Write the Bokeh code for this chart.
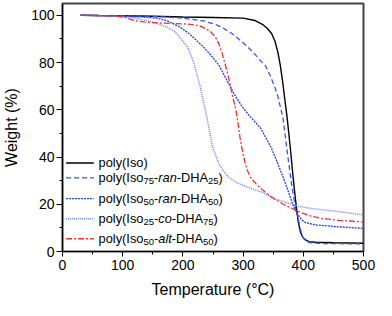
from bokeh.plotting import figure
from bokeh.models import Range1d, SingleIntervalTicker, Label, Arrow
from bokeh.embed import file_html
from bokeh.resources import INLINE

# ---------------- data ----------------
t_iso = [30, 60, 100, 150, 200, 250, 300, 320, 332, 340, 347.5, 353, 358, 362, 365.6, 369, 373, 378,
         383.5, 387, 391.4, 395, 398.7, 403, 409.5, 420, 450, 500]
w_iso = [100, 99.9, 99.8, 99.6, 99.3, 99.1, 98.8, 97.8, 96.2, 94.5, 92.2, 89, 84.1, 78.5, 72, 65, 57, 45,
         30.4, 22, 12.9, 8.5, 6.2, 5, 4.2, 3.9, 3.7, 3.5]

t_r75 = [30, 60, 100, 130, 170, 200, 234, 250, 265, 283, 301, 315, 329, 337, 345, 353, 358, 363, 366,
         370, 376, 380, 383.5, 387, 391.4, 395, 399, 405, 412, 430, 500]
w_r75 = [100, 99.9, 99.8, 99.6, 99.3, 98.8, 97.6, 96.5, 94.9, 92, 88.2, 84.8, 80.8, 78.7, 74.5, 69.4,
         65.5, 60, 57, 49, 37, 29.5, 23.7, 18.5, 14.2, 9.5, 6.2, 4.3, 3.7, 3.4, 3.2]

t_r50 = [30, 60, 100, 130, 155, 170, 182, 195, 208, 220, 234, 247, 260, 272, 285, 298, 311, 329, 347,
         358, 368, 375, 381, 386, 391, 397, 404, 420, 450, 500]
w_r50 = [100, 99.9, 99.7, 99.3, 98.8, 98, 96.8, 95, 92.7, 90, 86.6, 83, 78.8, 73, 66.7, 61.5, 57.3,
         52.3, 43.8, 37, 30.4, 25.5, 21, 18, 15.6, 13.5, 12.2, 11.3, 10.6, 9.8]

t_co = [30, 60, 100, 120, 140, 160, 175, 187, 197, 208, 218, 228, 239, 249, 260, 268, 275, 285, 296,
        315, 332, 353, 375, 394, 420, 456, 500]
w_co = [100, 99.9, 99.5, 98.8, 97.8, 96.3, 94.8, 93, 90, 86.5, 80, 70.5, 58, 44.5, 37, 34, 31.7, 29.8,
        28.4, 26.5, 25, 22.3, 20.5, 19, 18, 17, 15.5]

t_alt = [30, 60, 90, 105, 119, 135, 146, 165, 182, 200, 213, 228, 239, 247, 254, 260, 265, 270, 275,
         279, 283, 287, 290, 295, 300, 306, 312, 322, 335, 353, 370, 391, 410, 430, 460, 500]
w_alt = [100, 99.9, 99.6, 99, 97.8, 97.2, 96.9, 96.7, 96.5, 96.4, 96.2, 95.5, 94.2, 92.8, 90.8, 87.8,
         84, 79.5, 74.7, 70, 65.3, 61, 57, 48, 41, 35, 31.5, 28.5, 25.5, 22, 19.6, 17, 15.2, 14, 13.2, 12.5]

x_label = "Temperature (°C)"
y_label = "Weight (%)"

# legend texts: (text, style) n = normal, s = subscript, i = italic
legend_parts = [
    [("poly(Iso)", "n")],
    [("poly(Iso", "n"), ("75", "s"), ("-", "n"), ("ran", "i"), ("-DHA", "n"), ("25", "s"), (")", "n")],
    [("poly(Iso", "n"), ("50", "s"), ("-", "n"), ("ran", "i"), ("-DHA", "n"), ("50", "s"), (")", "n")],
    [("poly(Iso", "n"), ("25", "s"), ("-", "n"), ("co", "i"), ("-DHA", "n"), ("75", "s"), (")", "n")],
    [("poly(Iso", "n"), ("50", "s"), ("-", "n"), ("alt", "i"), ("-DHA", "n"), ("50", "s"), (")", "n")],
]

series = [
    (t_iso, w_iso, "#000000", None, 1.4),
    (t_r75, w_r75, "#3355ff", "5 3", 1.3),
    (t_r50, w_r50, "#1f3cf0", "2 1", 1.3),
    (t_co, w_co, "#6f84ff", "1 1", 1.5),
    (t_alt, w_alt, "#ff2b2b", "6 2 2 2", 1.3),
]

FONT = "Liberation Sans"

p = figure(width=376, height=300, output_backend="svg", toolbar_location=None,
           x_range=Range1d(0, 500), y_range=Range1d(0, 105),
           min_border_left=50, min_border_right=13, min_border_top=3, min_border_bottom=46)
p.background_fill_color = "white"
p.border_fill_color = "white"
p.xgrid.visible = False
p.ygrid.visible = False
p.outline_line_color = "#444444"
p.outline_line_width = 2

p.xaxis.ticker = SingleIntervalTicker(interval=100, num_minor_ticks=2)
p.yaxis.ticker = SingleIntervalTicker(interval=20, num_minor_ticks=2)
for ax in (p.xaxis, p.yaxis):
    ax.axis_line_color = "black"
    ax.axis_line_width = 1.2
    ax.major_tick_line_color = "black"
    ax.minor_tick_line_color = "black"
    ax.major_tick_in = 0
    ax.minor_tick_in = 0
    ax.major_label_text_font = FONT
    ax.major_label_text_font_size = "14px"
    ax.major_label_text_color = "black"
    ax.axis_label_text_font = FONT
    ax.axis_label_text_font_size = "16px"
    ax.axis_label_text_font_style = "normal"
    ax.axis_label_text_color = "black"
p.xaxis.major_tick_out = 5
p.xaxis.minor_tick_out = 3
p.yaxis.major_tick_out = 6
p.yaxis.minor_tick_out = 3
p.xaxis.major_label_standoff = 3
p.yaxis.major_label_standoff = 2
p.xaxis.axis_label_standoff = 8
p.yaxis.axis_label_standoff = 8
p.xaxis.axis_label = x_label
p.yaxis.axis_label = y_label

for t, w, c, d, lw in series:
    kw = dict(line_color=c, line_width=lw)
    if d:
        kw["line_dash"] = d
    p.line(t, w, **kw)

# ---------------- hand-built legend (subscripts / italics) ----------------
ARIAL = {'p': 556, 'o': 556, 'l': 222, 'y': 500, '(': 333, ')': 333, 'I': 278, 's': 500, '-': 333,
         'r': 333, 'a': 556, 'n': 556, 'D': 722, 'H': 722, 'A': 667, 'c': 500, 't': 278}
for dg in "0123456789":
    ARIAL[dg] = 556

MAIN = 12.8
SUB = 9.5

def twidth(s, size):
    return sum(ARIAL.get(ch, 556) for ch in s) * size / 1000.0

rows_y = [37.5, 31.2, 22.4, 13.9, 5.4]   # legend row positions (data units)
line_x0, line_x1, text_x = 6, 52, 60

for (t, w, c, d, lw), parts, ry in zip(series, legend_parts, rows_y):
    kw = dict(line_color=c, line_width=lw)
    if d:
        kw["line_dash"] = d
    p.add_layout(Arrow(start=None, end=None, x_start=line_x0, y_start=ry, x_end=line_x1, y_end=ry, **kw))
    off = 0.0
    for txt, st in parts:
        size = SUB if st == "s" else MAIN
        lab = Label(x=text_x, y=ry, x_units="data", y_units="data", x_offset=off,
                    y_offset=(-3.5 if st == "s" else 0.0), text=txt,
                    text_font=FONT, text_font_size=f"{size}px",
                    text_font_style=("italic" if st == "i" else "normal"),
                    text_baseline="alphabetic", text_align="left", text_color="black")
        p.add_layout(lab)
        off += twidth(txt, size)

open("out.html", "w").write(file_html(p, INLINE))
